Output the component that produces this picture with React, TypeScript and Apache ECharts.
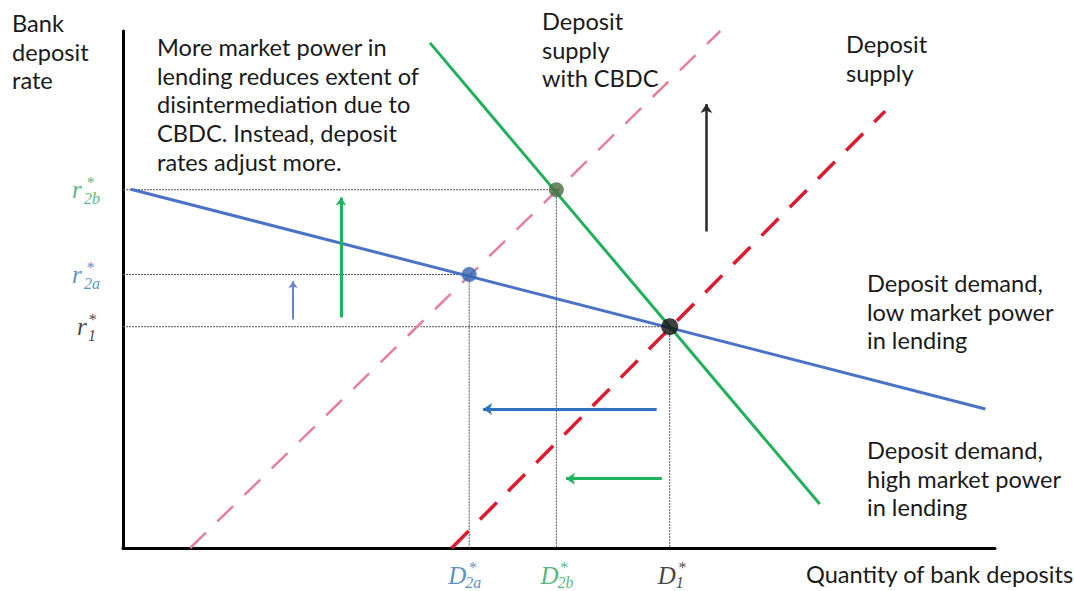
import React, { useEffect, useRef } from "react";
import * as echarts from "echarts";

// ---------- data (abstract units on both axes) ----------
const xDomain = [0, 100];
const yDomain = [0, 100];

// Equilibria: D1*/r1*, D2a*/r2a*, D2b*/r2b*
const eqKeys = ["1", "2a", "2b"];
const eqQuantity = [62.7, 39.7, 49.7];
const eqRate = [42.8, 52.9, 69.3];

// Curves (end points)
const demandLowPower = [[0.9, 69.4], [98.9, 26.9]];
const demandHighPower = [[35.2, 97.7], [79.9, 8.5]];
const depositSupply = [[37.7, 0], [87.4, 84.5]];
const depositSupplyCBDC = [[7.7, 0], [68.5, 100]];

// Shift arrows (from, to)
const arrowRateBlack = [[66.9, 61.2], [66.9, 85.9]];
const arrowRateBlue = [[19.5, 44.2], [19.5, 51.6]];
const arrowRateGreen = [[25.0, 44.6], [25.0, 67.8]];
const arrowQtyBlue = [[61.2, 26.9], [41.3, 26.9]];
const arrowQtyGreen = [[61.8, 13.4], [50.8, 13.4]];

// Texts
const yAxisTitle = ["Bank", "deposit", "rate"];
const xAxisTitle = "Quantity of bank deposits";
const noteText = [
  "More market power in",
  "lending reduces extent of",
  "disintermediation due to",
  "CBDC. Instead, deposit",
  "rates adjust more.",
];
const supplyCBDCLabel = ["Deposit", "supply", "with CBDC"];
const supplyLabel = ["Deposit", "supply"];
const demandLowLabel = ["Deposit demand,", "low market power", "in lending"];
const demandHighLabel = ["Deposit demand,", "high market power", "in lending"];

// ---------- styles ----------
const eqDotColors = ["#111111", "#3565b3", "#4a6b42"];
const eqDotSizes = [17, 15, 15];
const eqLabelColors = ["#111111", "#2e75b6", "#2aa460"];
const SANS = "Lato, 'Open Sans', sans-serif";
const SERIF = "'Liberation Serif', 'DejaVu Serif', serif";
const FS = 23.6;
const LH = 28.7;

// label offsets (px) relative to the tick anchor
const yTickOffsets = [
  { r: [-46, 0], s: [-35, -7], b: [-35, 9] },
  { r: [-51, 0], s: [-37, -7], b: [-39, 9] },
  { r: [-51, 0], s: [-37, -7], b: [-39, 9] },
];
const xTickOffsets = [
  { r: [-12, 27], s: [8, 19], b: [6, 34] },
  { r: [-21, 27], s: [-1, 19], b: [-4, 34] },
  { r: [-16, 27], s: [3, 19], b: [1, 34] },
];

function textBlock(lines: string[], x: number, baseline: number) {
  return {
    type: "text",
    style: {
      text: lines.join("\n"),
      x,
      y: baseline - LH / 2 - 0.3 * FS - 3,
      font: `${FS}px ${SANS}`,
      lineHeight: LH,
      fill: "#1a1a1a",
      verticalAlign: "top",
    },
    silent: true,
  };
}

function tickLabel(value: number[], text: string, offset: number[], size: number, color: string) {
  return {
    value,
    label: {
      show: true,
      formatter: text,
      position: "inside",
      align: "left",
      verticalAlign: "middle",
      offset,
      fontFamily: SERIF,
      fontStyle: "italic",
      fontSize: size,
      lineHeight: size <= 16 ? 12 : size,
      color,
    },
  };
}

function arrow(coords: number[][], color: string, width: number, size: number) {
  return {
    type: "lines",
    coordinateSystem: "cartesian2d",
    symbol: ["none", "arrow"],
    symbolSize: size,
    silent: true,
    lineStyle: { color, width, opacity: 1 },
    data: [{ coords }],
    z: 4,
  };
}

function curve(data: number[][], color: string, width: number, type: any, z = 3) {
  return {
    type: "line",
    data,
    showSymbol: false,
    symbol: "none",
    silent: true,
    lineStyle: { color, width, type, cap: "butt" },
    z,
  };
}

export default function App() {
  const ref = useRef<HTMLDivElement>(null);

  useEffect(() => {
    if (!ref.current) return;
    const chart = echarts.init(ref.current, undefined, { renderer: "svg" });

    const guides = eqKeys.map((_, i) => ({
      coords: [
        [xDomain[0], eqRate[i]],
        [eqQuantity[i], eqRate[i]],
        [eqQuantity[i], yDomain[0]],
      ],
    }));

    const tickData: any[] = [];
    eqKeys.forEach((k, i) => {
      const c = eqLabelColors[i];
      const yo = yTickOffsets[i];
      const ya = [xDomain[0], eqRate[i]];
      tickData.push(tickLabel(ya, "r", yo.r, 25, c));
      tickData.push(tickLabel(ya, "*", yo.s, 16, c));
      tickData.push(tickLabel(ya, k, yo.b, 16, c));
      const xo = xTickOffsets[i];
      const xa = [eqQuantity[i], yDomain[0]];
      tickData.push(tickLabel(xa, "D", xo.r, 25, c));
      tickData.push(tickLabel(xa, "*", xo.s, 16, c));
      tickData.push(tickLabel(xa, k, xo.b, 16, c));
    });

    const option: any = {
      animation: false,
      backgroundColor: "#ffffff",
      grid: { left: 123, right: 79, top: 31, bottom: 43, containLabel: false },
      xAxis: {
        type: "value",
        min: xDomain[0],
        max: xDomain[1],
        axisLine: { show: true, onZero: false, lineStyle: { color: "#000", width: 3 } },
        axisTick: { show: false },
        axisLabel: { show: false },
        splitLine: { show: false },
      },
      yAxis: {
        type: "value",
        min: yDomain[0],
        max: yDomain[1],
        axisLine: { show: true, onZero: false, lineStyle: { color: "#000", width: 3 } },
        axisTick: { show: false },
        axisLabel: { show: false },
        splitLine: { show: false },
      },
      series: [
        {
          type: "lines",
          coordinateSystem: "cartesian2d",
          polyline: true,
          silent: true,
          lineStyle: { color: "#555", width: 1, type: [2, 1], opacity: 1 },
          data: guides,
          z: 1,
        },
        curve(depositSupplyCBDC, "#e5809b", 2.5, [22, 16]),
        curve(depositSupply, "#dd1a2e", 3.5, [24, 16]),
        curve(demandLowPower, "#4a72c6", 3, "solid"),
        curve(demandHighPower, "#22b05a", 3, "solid"),
        arrow(arrowRateBlack, "#2b2b2b", 2.5, 9),
        arrow(arrowRateBlue, "#6a80cf", 2, 7),
        arrow(arrowRateGreen, "#1fb35c", 3, 8),
        arrow(arrowQtyBlue, "#2e73bd", 3, 9),
        arrow(arrowQtyGreen, "#1fb35c", 3, 9),
        {
          type: "scatter",
          silent: true,
          z: 6,
          data: eqKeys.map((_, i) => ({
            value: [eqQuantity[i], eqRate[i]],
            symbolSize: eqDotSizes[i],
            itemStyle: { color: eqDotColors[i] },
          })),
        },
        {
          type: "scatter",
          silent: true,
          clip: false,
          symbolSize: 1,
          itemStyle: { color: "rgba(0,0,0,0)" },
          z: 7,
          data: tickData,
        },
      ],
      graphic: [
        textBlock(yAxisTitle, 12, 33),
        textBlock(noteText, 157, 57),
        textBlock(supplyCBDCLabel, 542, 31),
        textBlock(supplyLabel, 846, 54),
        textBlock(demandLowLabel, 867, 293),
        textBlock(demandHighLabel, 867, 460),
        textBlock([xAxisTitle], 806, 584),
      ],
    };

    chart.setOption(option);
    return () => chart.dispose();
  }, []);

  return (
    <div
      ref={ref}
      style={{ position: "fixed", left: 0, top: 0, width: 1074, height: 591, background: "#fff" }}
    />
  );
}
